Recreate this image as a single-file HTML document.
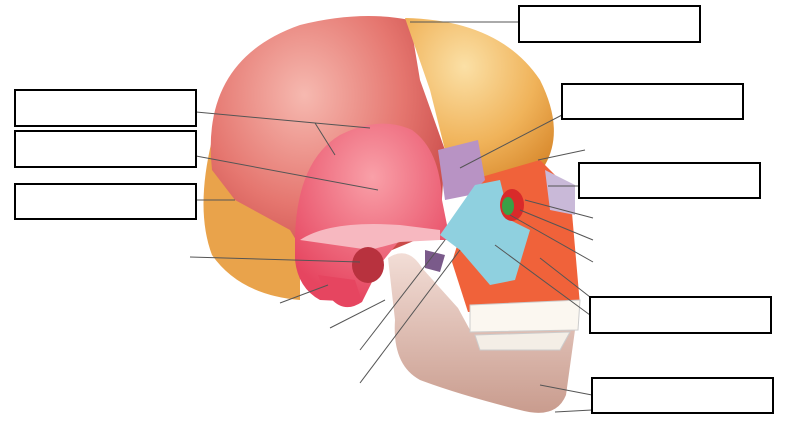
<!DOCTYPE html>
<html><head><style>html,body{margin:0;padding:0;background:#fff;width:800px;height:434px;overflow:hidden}</style></head>
<body>
<svg width="800" height="434" viewBox="0 0 800 434" xmlns="http://www.w3.org/2000/svg">
<defs>
<radialGradient id="par" cx="0.4" cy="0.3" r="0.7"><stop offset="0" stop-color="#f6b9b0"/><stop offset="0.6" stop-color="#e5766f"/><stop offset="1" stop-color="#c94a48"/></radialGradient>
<radialGradient id="fro" cx="0.4" cy="0.3" r="0.8"><stop offset="0" stop-color="#fbe0a6"/><stop offset="0.6" stop-color="#f0b35a"/><stop offset="1" stop-color="#d98a2e"/></radialGradient>
<radialGradient id="tem" cx="0.5" cy="0.3" r="0.7"><stop offset="0" stop-color="#f9a0a8"/><stop offset="1" stop-color="#e64560"/></radialGradient>
<linearGradient id="jaw" x1="0" y1="0" x2="0" y2="1"><stop offset="0" stop-color="#f2ddd6"/><stop offset="1" stop-color="#c99c8e"/></linearGradient>
</defs>
<!-- occipital -->
<path d="M212 140 Q195 210 212 255 Q240 295 300 300 L300 210 Q260 170 212 140Z" fill="#e9a34b"/>
<!-- parietal -->
<path d="M212 170 Q200 60 300 25 Q360 10 410 20 L420 80 L445 150 L440 230 L320 280 L290 230 L235 200 Z" fill="url(#par)"/>
<!-- frontal -->
<path d="M405 18 Q500 20 540 80 Q565 130 545 165 L510 170 L480 180 L445 150 L430 90 Z" fill="url(#fro)"/>
<!-- maxilla / face -->
<path d="M478 178 L540 160 L570 190 L580 305 L468 312 L452 262 Z" fill="#f0623a"/>
<path d="M545 170 L575 185 L575 215 L550 210Z" fill="#c9b9d8"/>
<!-- sphenoid -->
<path d="M438 150 L478 140 L485 180 L470 195 L445 200 Z" fill="#b893c4"/>
<!-- temporal -->
<path d="M295 235 Q298 160 340 135 Q380 115 412 130 Q440 150 442 200 L450 240 L400 240 L382 262 L362 302 L320 300 Q298 288 295 260 Z" fill="url(#tem)"/>
<path d="M300 240 Q330 220 400 225 L440 230 L440 240 L400 242 L370 250Z" fill="#f7b8c0"/>
<ellipse cx="368" cy="265" rx="16" ry="18" fill="#b8323e"/>
<path d="M318 275 Q335 320 362 302 L355 280Z" fill="#e64560"/>
<!-- zygomatic -->
<path d="M440 235 L475 185 L500 180 L510 220 L530 230 L515 280 L490 285 L460 250 Z" fill="#8fd0df"/>
<ellipse cx="512" cy="205" rx="12" ry="16" fill="#d92a2a"/>
<ellipse cx="508" cy="206" rx="6" ry="9" fill="#3aa046"/>
<!-- mandible -->
<path d="M388 258 Q408 245 422 268 L458 308 L470 330 L575 330 L566 395 Q556 420 520 410 Q460 395 420 380 Q392 365 395 320 Z" fill="url(#jaw)"/>
<path d="M425 250 L445 255 L440 272 L425 268Z" fill="#7a5a8a"/>
<!-- teeth -->
<path d="M470 305 L580 300 L578 330 L470 332 Z" fill="#fbf7f0" stroke="#ccc"/>
<path d="M475 335 L570 332 L560 350 L480 350Z" fill="#f4eee6" stroke="#ccc"/>
<!-- label lines -->
<g stroke="#555" stroke-width="1" fill="none">
<path d="M196 112 L315 123 L335 155"/><path d="M315 123 L370 128"/>
<path d="M196 156 L378 190"/>
<path d="M196 200 L235 200"/>
<path d="M410 22 L519 22"/>
<path d="M562 115 L460 168"/>
<path d="M585 150 L538 160"/>
<path d="M579 186 L548 186"/>
<path d="M593 218 L525 200"/><path d="M593 240 L520 210"/><path d="M593 262 L510 215"/>
<path d="M590 297 L540 258"/><path d="M590 315 L495 245"/>
<path d="M592 395 L540 385"/><path d="M592 410 L555 412"/>
<path d="M190 257 L360 262"/>
<path d="M280 303 L328 285"/><path d="M330 328 L385 300"/>
<path d="M360 350 L445 240"/><path d="M360 383 L460 250"/>
</g>
<!-- boxes -->
<g fill="#fff" stroke="#000" stroke-width="2">
<rect x="15" y="90" width="181" height="36"/>
<rect x="15" y="131" width="181" height="36"/>
<rect x="15" y="184" width="181" height="35"/>
<rect x="519" y="6" width="181" height="36"/>
<rect x="562" y="84" width="181" height="35"/>
<rect x="579" y="163" width="181" height="35"/>
<rect x="590" y="297" width="181" height="36"/>
<rect x="592" y="378" width="181" height="35"/>
</g>
</svg>
</body></html>
